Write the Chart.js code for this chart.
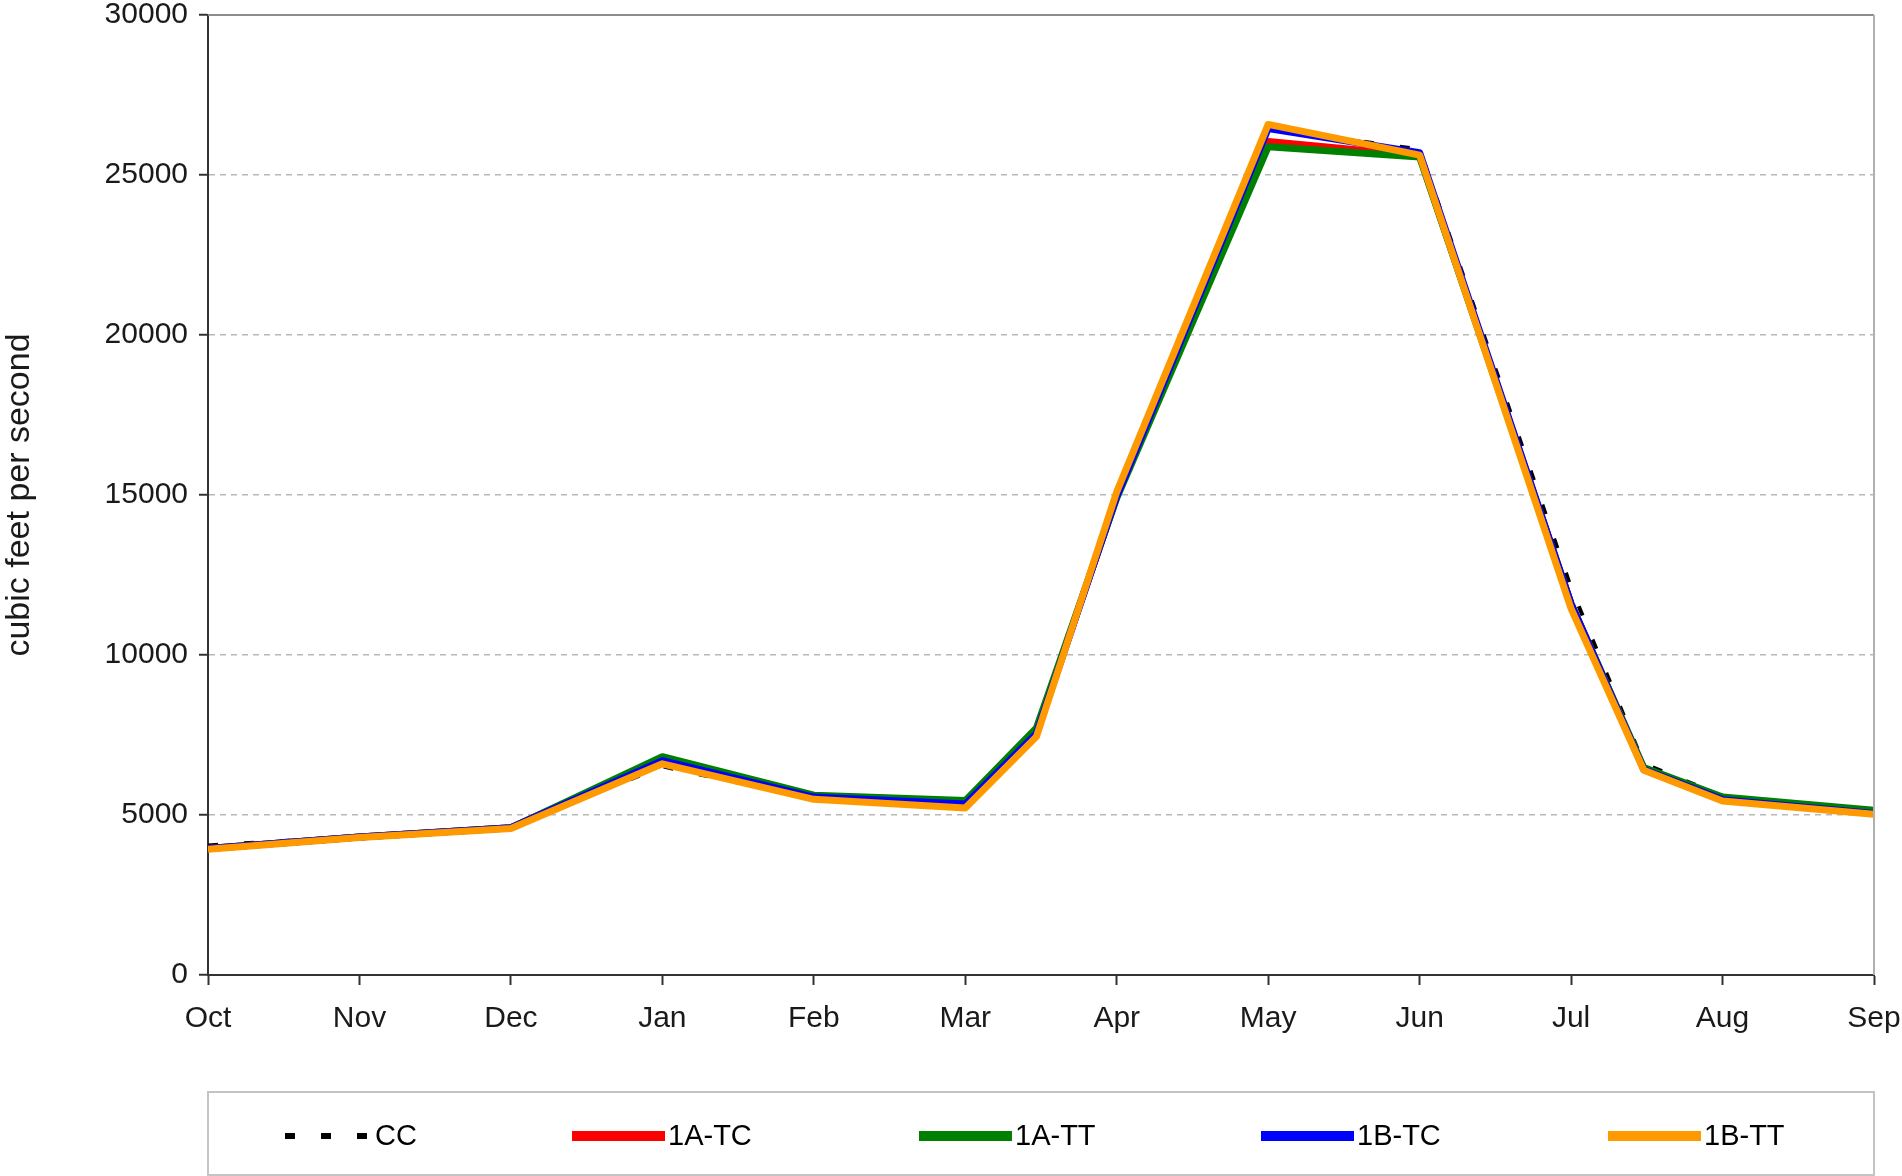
<!DOCTYPE html>
<html>
<head>
<meta charset="utf-8">
<title>cubic feet per second</title>
<script src="https://cdn.jsdelivr.net/npm/chart.js@4"></script>
<style>
  body { margin: 0; padding: 0; background: #fff; overflow: hidden; }
  .wrap { width: 1902px; height: 1176px; position: relative; }
</style>
</head>
<body>
<div class="wrap"><canvas id="flowChart"></canvas></div>
<script>
// month tick labels, Oct = 0 ... Sep = 11
const months = ["Oct", "Nov", "Dec", "Jan", "Feb", "Mar", "Apr", "May", "Jun", "Jul", "Aug", "Sep"];
// where each value sits on the month axis (mid-March and mid-July are extra points)
const pointPos = [0, 1, 2, 3, 4, 5, 5.47, 6, 7, 8, 9, 9.48, 10, 11];

const cc    = [4050, 4330, 4620, 6520, 5500, 5250, 7600, 14900, 26450, 25800, 12100, 6600, 5600, 5100];
const a1TC  = [3950, 4310, 4600, 6750, 5580, 5350, 7600, 14950, 26050, 25600, 11600, 6450, 5500, 5080];
const a1TT  = [3950, 4310, 4600, 6820, 5620, 5450, 7720, 14900, 25880, 25560, 11600, 6480, 5560, 5150];
const b1TC  = [3950, 4310, 4600, 6700, 5560, 5340, 7550, 14950, 26450, 25700, 11600, 6420, 5480, 5050];
const b1TT  = [3930, 4300, 4580, 6600, 5490, 5220, 7450, 15100, 26580, 25620, 11450, 6400, 5440, 5020];

const yMin = 0, yMax = 30000, yStep = 5000;

const FONT = '"Liberation Sans", Arial, sans-serif';
const xAxisHeight = 117;
const legendHeight = 84;

const toPoints = vals => vals.map((v, i) => ({ x: pointPos[i], y: v }));

function series(label, vals, color, width, dash, order) {
  return {
    label: label,
    data: toPoints(vals),
    borderColor: color,
    backgroundColor: color,
    borderWidth: width,
    borderDash: dash,
    borderJoinStyle: 'round',
    pointRadius: 0,
    tension: 0,
    order: order
  };
}

// frame around the plot (top + right) and the boxed legend at the bottom
const framePlugin = {
  id: 'frameAndLegend',
  afterDraw(chart) {
    const { ctx, chartArea, height } = chart;
    ctx.save();
    ctx.strokeStyle = '#8c8c8c';
    ctx.lineWidth = 2;
    ctx.beginPath();
    ctx.moveTo(chartArea.left, chartArea.top);
    ctx.lineTo(chartArea.right, chartArea.top);
    ctx.stroke();
    ctx.strokeStyle = '#b0b0b0';
    ctx.beginPath();
    ctx.moveTo(chartArea.right, chartArea.top);
    ctx.lineTo(chartArea.right, chartArea.bottom);
    ctx.stroke();

    const top = chartArea.bottom + xAxisHeight;
    ctx.strokeStyle = '#c4c4c4';
    ctx.lineWidth = 2;
    ctx.strokeRect(chartArea.left, top, chartArea.right - chartArea.left, height - top - 1);

    // legend slots, measured from the left edge of the plot
    const slotX = [77, 364, 711, 1053, 1400];
    const y = top + 44;
    ctx.font = '29px ' + FONT;
    ctx.textBaseline = 'middle';
    chart.data.datasets.forEach((d, i) => {
      const x0 = chartArea.left + slotX[i];
      const dashed = d.borderDash && d.borderDash.length;
      const w = dashed ? 82 : 93;
      ctx.beginPath();
      ctx.setLineDash(dashed ? [10, 26] : []);
      ctx.lineWidth = dashed ? 6 : 10;
      ctx.strokeStyle = d.borderColor;
      ctx.moveTo(x0, y);
      ctx.lineTo(x0 + w, y);
      ctx.stroke();
      ctx.setLineDash([]);
      ctx.fillStyle = '#000';
      ctx.fillText(d.label, x0 + w + (dashed ? 8 : 3), y + 1);
    });
    ctx.restore();
  }
};

new Chart(document.getElementById('flowChart'), {
  type: 'line',
  data: {
    datasets: [
      series('CC', cc, '#000000', 4, [10, 26], 5),
      series('1A-TC', a1TC, '#ff0000', 7, [], 4),
      series('1A-TT', a1TT, '#008000', 7, [], 3),
      series('1B-TC', b1TC, '#0000ff', 7, [], 2),
      series('1B-TT', b1TT, '#ff9900', 7, [], 1)
    ]
  },
  options: {
    responsive: true,
    maintainAspectRatio: false,
    animation: false,
    layout: { padding: { left: 0, top: 0, right: 28, bottom: legendHeight } },
    plugins: {
      legend: { display: false },
      tooltip: { enabled: false }
    },
    scales: {
      x: {
        type: 'linear',
        min: 0,
        max: months.length - 1,
        afterFit: s => { s.height = xAxisHeight; s.paddingRight = 28; s.paddingLeft = 0; },
        ticks: {
          stepSize: 1,
          autoSkip: false,
          maxRotation: 0,
          padding: 19,
          color: '#1a1a1a',
          font: { family: FONT, size: 30, lineHeight: 1 },
          callback: v => months[v]
        },
        grid: {
          drawOnChartArea: false,
          tickLength: 10,
          tickWidth: 2,
          tickColor: '#333'
        },
        border: { color: '#333', width: 2 }
      },
      y: {
        min: yMin,
        max: yMax,
        afterFit: s => { s.width = 208; s.paddingTop = 15; s.paddingBottom = 0; },
        ticks: {
          stepSize: yStep,
          padding: 11,
          color: '#1a1a1a',
          font: { family: FONT, size: 30, lineHeight: 1 },
          callback: v => String(v)
        },
        grid: {
          color: ctx => (ctx.tick && (ctx.tick.value === yMin || ctx.tick.value === yMax)) ? 'rgba(0,0,0,0)' : '#b8b8b8',
          lineWidth: 1.5,
          tickLength: 9,
          tickWidth: 2,
          tickColor: '#333'
        },
        border: { color: '#333', width: 2, dash: [6, 5] },
        title: {
          display: true,
          text: 'cubic feet per second',
          color: '#1a1a1a',
          padding: { top: 3, bottom: 0 },
          font: { family: FONT, size: 34, lineHeight: 1 }
        }
      }
    }
  },
  plugins: [framePlugin]
});
</script>
</body>
</html>
